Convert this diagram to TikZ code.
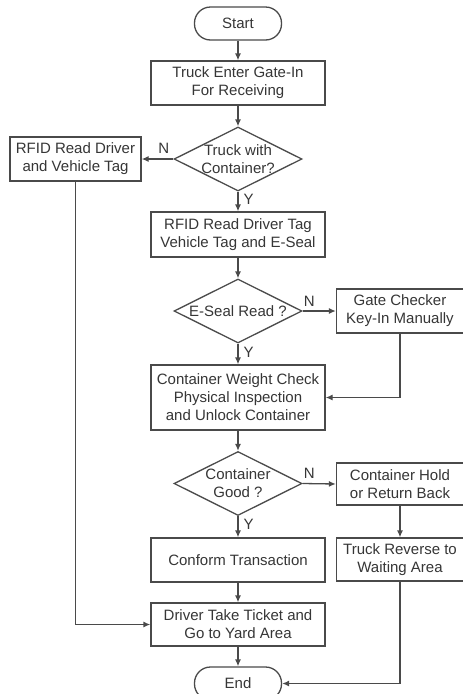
\documentclass[tikz,border=0pt]{standalone}
\usepackage{fontspec}
\setmainfont{Liberation Sans}
\usetikzlibrary{shapes.geometric,arrows.meta}
\definecolor{ln}{HTML}{4A4A4A}
\definecolor{tx}{HTML}{363636}
\begin{document}
\begin{tikzpicture}[x=1pt,y=-1pt,
  every node/.style={font=\fontsize{15}{18}\selectfont,text=tx},
  box/.style={draw=ln,line width=1.3pt,rectangle,align=center,inner sep=0pt},
  term/.style={draw=ln,line width=1.3pt,rectangle,rounded corners=16pt,minimum width=87pt,minimum height=33pt,inner sep=0pt},
  dia/.style={draw=ln,line width=1.3pt,diamond,minimum width=128pt,minimum height=64pt,inner sep=0pt},
  dtext/.style={align=center,font=\fontsize{15}{18}\selectfont,text=tx},
  arr/.style={draw=ln,line width=1.3pt,-{Latex[length=7pt,width=6pt]}},
  lab/.style={font=\fontsize{15}{18}\selectfont,text=tx,inner sep=0pt}]
\useasboundingbox (0,0) rectangle (463,694);
\fill[white] (0,0) rectangle (463,694);

\node[term] (start) at (238,23.5) {Start};
\node[box,minimum width=174pt,minimum height=44pt] (b1) at (238,83) {Truck Enter Gate-In\\For Receiving};
\node[dia,label={[dtext]center:Truck with\\Container?}] (d1) at (238,159) {};
\node[box,minimum width=131pt,minimum height=44pt] (left) at (75.5,159) {RFID Read Driver\\and Vehicle Tag};
\node[box,minimum width=174pt,minimum height=45pt] (b2) at (238,234.5) {RFID Read Driver Tag\\Vehicle Tag and E-Seal};
\node[dia,label={[dtext]center:E-Seal Read ?}] (d2) at (238,311) {};
\node[box,minimum width=127pt,minimum height=44pt] (gate) at (400,311) {Gate Checker\\Key-In Manually};
\node[box,minimum width=174pt,minimum height=65pt] (b3) at (238,397.5) {Container Weight Check\\Physical Inspection\\and Unlock Container};
\node[dia,label={[dtext]center:Container\\Good ?}] (d3) at (238,483.5) {};
\node[box,minimum width=127pt,minimum height=42pt] (hold) at (400,484) {Container Hold\\or Return Back};
\node[box,minimum width=174pt,minimum height=44pt] (conf) at (238,560) {Conform Transaction};
\node[box,minimum width=127pt,minimum height=43pt] (rev) at (400,559.5) {Truck Reverse to\\Waiting Area};
\node[box,minimum width=174pt,minimum height=43pt] (drv) at (238,624.5) {Driver Take Ticket and\\Go to Yard Area};
\node[term] (end) at (238,683.5) {End};

\draw[arr] (start) -- (b1);
\draw[arr] (b1) -- (d1);
\draw[arr] (d1.west) -- (left.east) node[lab,pos=0.3,above=5pt] (n1) {N};
\draw[arr] (d1.south) -- (b2.north) node[lab,pos=0.4,right=5pt] (y1) {Y};
\draw[arr] (b2) -- (d2);
\draw[arr] (d2.east) -- (gate.west) node[lab,pos=0.2,above=4pt] (n2) {N};
\draw[arr] (d2.south) -- (b3.north) node[lab,pos=0.4,right=5pt] (y2) {Y};
\draw[arr] (gate.south) |- (b3.east);
\draw[arr] (b3) -- (d3);
\draw[arr] (d3.east) -- (hold.west) node[lab,pos=0.2,above=4pt] (n3) {N};
\draw[arr] (d3.south) -- (conf.north) node[lab,pos=0.4,right=5pt] (y3) {Y};
\draw[arr] (hold) -- (rev);
\draw[arr] (conf) -- (drv);
\draw[arr] (left.south) |- (drv.west);
\draw[arr] (drv) -- (end);
\draw[arr] (rev.south) |- (end.east);
\end{tikzpicture}
\end{document}
